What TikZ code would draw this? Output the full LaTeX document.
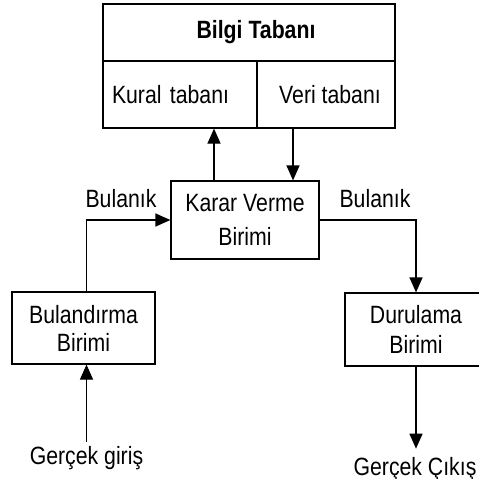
\documentclass[tikz,border=0pt]{standalone}
\usepackage{fontspec}
\setmainfont[FakeStretch=0.85]{Liberation Sans}
\usetikzlibrary{arrows.meta}
\tikzset{
  box/.style={draw, line width=1.2pt, inner sep=0pt, align=center},
  txt/.style={inner sep=0pt},
  arr/.style={line width=1.2pt, -{Triangle[length=15pt,width=13pt]}}
}

\begin{document}
\begin{tikzpicture}[x=1pt,y=-1pt,font=\fontsize{25}{30}\selectfont]
	\useasboundingbox (0,0) rectangle (479,479);
	\clip (0,0) rectangle (479,479);
	% bilgi tabani
	\node[box, minimum width=292pt, minimum height=57pt, font=\fontsize{25}{30}\selectfont\bfseries] (bilgi) at (249,32.5) {\hspace{14pt}Bilgi Tabanı};
	\node[box, minimum height=67pt, text width=136pt, inner xsep=9pt, align=left] (kural) at (180,94.5) {Kural tabanı};
	\node[box, minimum width=138pt, minimum height=67pt] (veri) at (326,94.5) {\hspace{8pt}Veri tabanı};
	% birimler
	\node[box, minimum width=148pt, minimum height=78pt, font=\fontsize{25}{34}\selectfont] (karar) at (245,220) {Karar Verme\\Birimi};
	\node[box, minimum width=143pt, minimum height=72pt, font=\fontsize{25}{28}\selectfont] (bul) at (83.5,328) {Bulandırma\\Birimi};
	\node[box, minimum width=142pt, minimum height=73pt] (dur) at (416,329.5) {Durulama\\Birimi};
	% etiketler
	\node[txt, anchor=base] (bulanik1) at (121,207) {Bulanık};
	\node[txt, anchor=base] (bulanik2) at (375,207) {Bulanık};
	\node[txt, anchor=base] (giris) at (86.5,464) {Gerçek giriş};
	\node[txt, anchor=base] (cikis) at (415,475) {Gerçek Çıkış};
	% oklar
	\coordinate (up) at (214,0);
	\coordinate (down) at (293,0);
	\draw[arr] (karar.north -| up) -- (kural.south -| up);
	\draw[arr] (veri.south -| down) -- (karar.north -| down);
	\draw[arr] (bul.north -| giris.north) |- (karar.west);
	\draw[arr] (karar.east) -| (dur.north);
	\draw[arr, shorten <=4pt] (giris.north) -- (giris.north |- bul.south);
	\draw[arr, shorten >=8pt] (dur.south) -- (dur.south |- cikis.north);
\end{tikzpicture}
\end{document}
